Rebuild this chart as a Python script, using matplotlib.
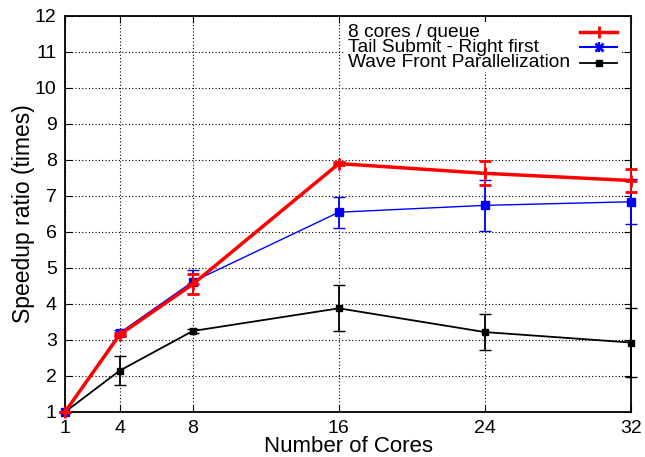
import matplotlib
matplotlib.use("Agg")
import matplotlib.pyplot as plt
from matplotlib.lines import Line2D
from matplotlib.patches import Rectangle

plt.rcParams['font.family'] = ['Liberation Sans', 'DejaVu Sans']

# dados
cores = [1, 4, 8, 16, 24, 32]

red_vals = [1.0, 3.15, 4.55, 7.9, 7.63, 7.43]
red_err = [0.0, 0.05, 0.28, 0.05, 0.33, 0.32]

blue_vals = [1.0, 3.2, 4.62, 6.55, 6.74, 6.84]
blue_err = [0.0, 0.08, 0.33, 0.43, 0.7, 0.62]

black_vals = [1.0, 2.15, 3.25, 3.88, 3.22, 2.93]
black_err = [0.0, 0.4, 0.05, 0.64, 0.5, 0.95]

labels = ['8 cores / queue', 'Tail Submit - Right first', 'Wave Front Parallelization']

fig = plt.figure(figsize=(6.45, 4.57), dpi=100)
ax = fig.add_axes([65/645, 45/457, 566/645, 396/457])

styles = [
    dict(color='red', lw=2.5, marker='+', ms=9, mew=2),
    dict(color='blue', lw=1.0, marker='s', ms=6, mew=1),
    dict(color='black', lw=1.3, marker='s', ms=5, mew=1),
]
series = [(red_vals, red_err), (blue_vals, blue_err), (black_vals, black_err)]

for z, ((vals, err), st) in enumerate(zip(series, styles)):
    cont = ax.errorbar(cores, vals, yerr=err, capsize=4, elinewidth=1.3,
                       zorder=5 - z, **st)
    for art in cont.get_children():
        art.set_clip_on(False)

ax.set_xlim(1, 32)
ax.set_ylim(1, 12)
ax.set_xticks(cores)
ax.set_yticks(range(1, 13))
ax.tick_params(direction='in', top=True, right=True, labelsize=14, length=5, pad=6)
ax.grid(True, color='black', linestyle=(0, (1, 2)), lw=0.8)
for s in ax.spines.values():
    s.set_linewidth(1.3)

ax.set_xlabel('Number of Cores', fontsize=16, labelpad=-1)
ax.set_ylabel('Speedup ratio (times)', fontsize=16.5, labelpad=0)

# legenda no estilo gnuplot (texto a esquerda, amostra a direita)
def ax_x(px):
    return (px - 65) / 566

def ax_y(py):
    return (412 - py) / 396

ax.add_patch(Rectangle((ax_x(345), ax_y(72)), ax_x(622) - ax_x(345), ax_y(22) - ax_y(72),
                       transform=ax.transAxes, facecolor='white', edgecolor='none', zorder=6))

leg_markers = ['+', 'x', 's']
leg_y = [32, 47, 63]
ax.text(ax_x(348), ax_y(47.5), '\n'.join(labels), transform=ax.transAxes,
        fontsize=13.8, linespacing=0.86, ha='left', va='center', zorder=7)
for st, mk, py in zip(styles, leg_markers, leg_y):
    yy = ax_y(py)
    lw = 1.5 if mk == 'x' else st['lw']
    ax.add_line(Line2D([ax_x(580), ax_x(617)], [yy, yy], transform=ax.transAxes,
                       color=st['color'], lw=lw, zorder=7))
    ms = 6 if mk == 'x' else st['ms']
    ax.plot([ax_x(598.5)], [yy], transform=ax.transAxes, zorder=8, linestyle='none',
            color=st['color'], marker=mk, ms=ms, mew=2 if mk != 's' else 1)
    if mk == 'x':
        ax.plot([ax_x(598.5)], [yy], transform=ax.transAxes, zorder=8, linestyle='none',
                color=st['color'], marker='+', ms=7, mew=1.5)

fig.savefig('out.png', dpi=100)
